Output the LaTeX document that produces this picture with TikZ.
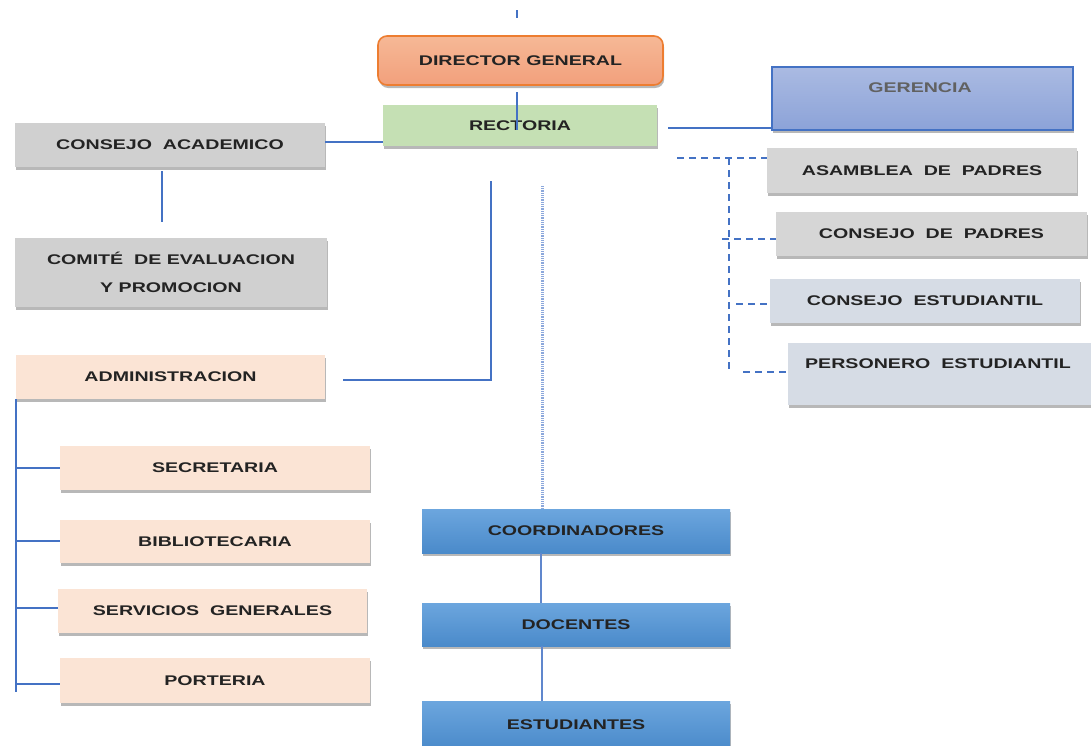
\documentclass[tikz,border=0pt]{standalone}
\usepackage{fontspec}
\newfontfamily\lab{Liberation Sans}[FakeStretch=1.4]
\usetikzlibrary{shadows,calc}
\definecolor{lnblue}{RGB}{68,114,196}
\definecolor{dotblue}{RGB}{140,168,220}
\definecolor{txt}{RGB}{35,35,35}
\definecolor{orgA}{RGB}{246,184,150}
\definecolor{orgB}{RGB}{242,160,124}
\definecolor{orgLine}{RGB}{237,125,49}
\definecolor{grnF}{RGB}{197,224,180}
\definecolor{gerA}{RGB}{170,186,226}
\definecolor{gerB}{RGB}{140,163,216}
\definecolor{grayF}{RGB}{214,214,214}
\definecolor{grayG}{RGB}{208,208,208}
\definecolor{slateF}{RGB}{214,220,229}
\definecolor{peachF}{RGB}{251,228,213}
\definecolor{bluA}{RGB}{108,166,222}
\definecolor{bluB}{RGB}{74,138,202}
\tikzset{
  box/.style={rectangle, inner sep=0pt, text=txt,
    font=\lab\bfseries\fontsize{14}{28}\selectfont, align=center,
    drop shadow={shadow xshift=1.2pt, shadow yshift=-3pt, fill=black, opacity=0.28}},
  conn/.style={draw=lnblue, line width=2.3pt},
  dconn/.style={draw=lnblue, line width=2.2pt, dash pattern=on 7pt off 5pt},
  dotconn/.style={draw=dotblue, line width=3pt, dash pattern=on 0.9pt off 0.9pt},
}
\begin{document}
\begin{tikzpicture}[x=1pt,y=-1pt]
\useasboundingbox[fill=white] (0,0) rectangle (1091,745);

% top
\node[box, rounded corners=9pt, top color=orgA, bottom color=orgB, draw=orgLine, line width=1.6pt,
  minimum width=285pt, minimum height=49pt, drop shadow={opacity=0}] (dir) at (520.5,60.5) {DIRECTOR GENERAL};
\node[box, fill=grnF, minimum width=274pt, minimum height=41pt] (rect) at (520,125.5) {RECTORIA};
\node[box, top color=gerA, bottom color=gerB, draw=lnblue, line width=2pt,
  minimum width=301pt, minimum height=63pt, drop shadow={opacity=0}] (ger) at (922.5,98.5) {};
\node[text=black!62, font=\lab\bfseries\fontsize{14}{16}\selectfont] (gerT) at (920,88) {GERENCIA};

% right column
\node[box, fill=grayF, minimum width=310pt, minimum height=45pt] (asam) at (922,170.5) {ASAMBLEA\ \ DE\ \ PADRES};
\node[box, fill=grayF, minimum width=311pt, minimum height=44pt] (cpad) at (931.5,234) {CONSEJO\ \ DE\ \ PADRES};
\node[box, fill=slateF, minimum width=310pt, minimum height=44pt] (cest) at (925,301) {CONSEJO\ \ ESTUDIANTIL};
\node[box, fill=slateF, minimum width=307pt, minimum height=62pt] (pers) at (941.5,374) {};
\node[text=txt, font=\lab\bfseries\fontsize{14}{16}\selectfont] (persT) at (938,364) {PERSONERO\ \ ESTUDIANTIL};

% left column
\node[box, fill=grayG, minimum width=310pt, minimum height=44pt] (cac) at (170,145) {CONSEJO\ \ ACADEMICO};
\node[box, fill=grayG, minimum width=312pt, minimum height=69pt] (com) at (171,272.5) {COMITÉ\ \ DE EVALUACION\\Y PROMOCION};
\node[box, fill=peachF, minimum width=309pt, minimum height=44pt] (adm) at (170.5,377) {ADMINISTRACION};
\node[box, fill=peachF, minimum width=310pt, minimum height=44pt] (sec) at (215,468) {SECRETARIA};
\node[box, fill=peachF, minimum width=310pt, minimum height=43pt] (bib) at (215,541.5) {BIBLIOTECARIA};
\node[box, fill=peachF, minimum width=309pt, minimum height=44pt] (serv) at (212.5,611) {SERVICIOS\ \ GENERALES};
\node[box, fill=peachF, minimum width=310pt, minimum height=45pt] (port) at (215,680.5) {PORTERIA};

% center column
\node[box, top color=bluA, bottom color=bluB, minimum width=308pt, minimum height=44pt] (coord) at (576,531) {COORDINADORES};
\node[box, top color=bluA, bottom color=bluB, minimum width=308pt, minimum height=43pt] (doc) at (576,624.5) {DOCENTES};
\node[box, top color=bluA, bottom color=bluB, minimum width=308pt, minimum height=48pt] (est) at (576,725) {ESTUDIANTES};

% coordinates for free ends
\coordinate (tick1) at (517,10);
\coordinate (tick2) at (517,18);
\coordinate (d1) at (517,92);
\coordinate (d2) at (517,130);
\coordinate (r0) at (668,128);
\coordinate (h0) at (677,158);
\coordinate (v0) at (729,158);
\coordinate (v1) at (729,373);
\coordinate (b1) at (722,239);
\coordinate (b2) at (736,304);
\coordinate (b3) at (743,372);
\coordinate (a0) at (343,380);
\coordinate (a1) at (491,380);
\coordinate (a2) at (491,181);
\coordinate (p0) at (542,186);
\coordinate (c0) at (162,171);
\coordinate (c1) at (162,222);
\coordinate (t0) at (16,399);
\coordinate (t1) at (16,692);

% connectors
\draw[conn] (tick1) -- (tick2);
\draw[conn] (d1) -- (d2);
\draw[conn] ([yshift=3pt]cac.east) -- ([yshift=3pt]cac.east -| rect.west);
\draw[conn] (r0) -- (r0 -| ger.west);
\draw[dconn] (h0) -- (h0 -| asam.west);
\draw[dconn] (v0) -- (v1);
\draw[dconn] (b1) -- (b1 -| cpad.west);
\draw[dconn] (b2) -- (b2 -| cest.west);
\draw[dconn] (b3) -- (b3 -| pers.west);
\draw[conn] (c0) -- (c1);
\draw[conn] (a0) -- (a1) -- (a2);
\draw[dotconn] (p0) -- (p0 |- coord.north);
\draw[conn, line width=2.6pt, draw=lnblue!85] (coord.south -| 541,0) -- (doc.north -| 541,0);
\draw[conn, line width=2.6pt, draw=lnblue!85] (doc.south -| 542,0) -- (est.north -| 542,0);
\draw[conn] (t0) -- (t1);
\draw[conn] (t0 |- 0,468) -- (sec.west |- 0,468);
\draw[conn] (t0 |- 0,541) -- (bib.west |- 0,541);
\draw[conn] (t0 |- 0,608) -- (serv.west |- 0,608);
\draw[conn] (t0 |- 0,684) -- (port.west |- 0,684);
\end{tikzpicture}
\end{document}
